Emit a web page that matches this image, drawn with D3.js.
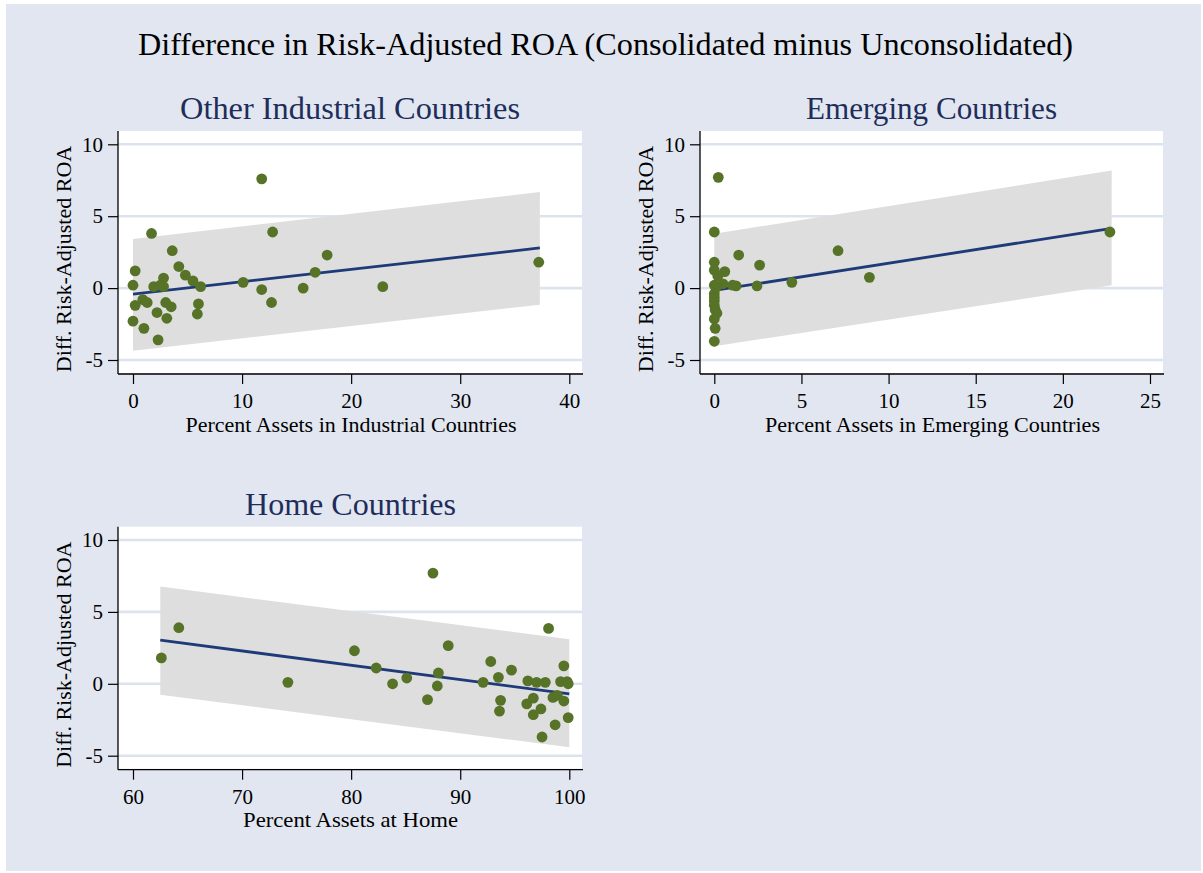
<!DOCTYPE html>
<html>
<head>
<meta charset="utf-8">
<script src="https://cdn.jsdelivr.net/npm/d3@7"></script>
<style>
  html, body { margin: 0; padding: 0; background: #ffffff; }
  svg { display: block; }
  text { font-family: "Liberation Serif", "Times New Roman", serif; }
</style>
</head>
<body>
<svg id="chart" width="1203" height="873"></svg>
<script>
// ---------- data ----------
const mainTitle = "Difference in Risk-Adjusted ROA (Consolidated minus Unconsolidated)";
const panelTitles = ["Other Industrial Countries", "Emerging Countries", "Home Countries"];
const xLabels = ["Percent Assets in Industrial Countries", "Percent Assets in Emerging Countries", "Percent Assets at Home"];
const yLabel = "Diff. Risk-Adjusted ROA";

const yTicks = [-5, 0, 5, 10];
const indTicks = [0, 10, 20, 30, 40];
const emgTicks = [0, 5, 10, 15, 20, 25];
const homeTicks = [60, 70, 80, 90, 100];

// Panel 1: Other industrial countries
const indX = [11.8, 1.7, 12.8, 3.6, 17.8, 4.2, 37.2, 0.2, 4.8, 2.8, 16.7, 5.5, 10.1, 0, 1.9, 2.5, 2.8, 6.2, 15.6, 22.9, 11.8, 0.2, 0.9, 1.3, 2.2, 3.0, 3.5, 6.0, 5.9, 12.7, 3.1, 0, 1.0, 2.3];
const indY = [7.6, 3.8, 3.9, 2.6, 2.3, 1.5, 1.8, 1.2, 0.9, 0.7, 1.1, 0.5, 0.4, 0.2, 0.1, 0.2, 0.1, 0.1, 0.0, 0.1, -0.1, -1.2, -0.8, -1.0, -1.7, -1.0, -1.3, -1.1, -1.8, -1.0, -2.1, -2.3, -2.8, -3.6];
const indFitX = [0, 37.3];
const indFitY = [-0.42, 2.79];
const indLo = [-4.35, -1.15];
const indHi = [3.41, 6.68];

// Panel 2: Emerging countries
const emgX = [0.23, 0, 22.7, 7.1, 1.4, 2.6, 0, 0, 0.6, 8.9, 0.2, 4.45, 2.45, 1.05, 1.25, 0, 0.5, 0.1, 0, 0, 0.15, 0, 0.05, 0, 0, 0, 0.05];
const emgY = [7.7, 3.9, 3.9, 2.6, 2.3, 1.6, 1.8, 1.25, 1.15, 0.75, 0.85, 0.4, 0.15, 0.2, 0.15, 0.2, 0.3, 0.05, -0.9, -1.2, -1.75, -2.15, -2.8, -3.7, -0.4, -0.65, -1.5];
const emgFitX = [0, 22.8];
const emgFitY = [-0.16, 4.15];
const emgLo = [-4.04, 0.19];
const emgHi = [3.78, 8.17];

// Panel 3: Home
const homeX = [62.6, 64.2, 74.2, 80.3, 82.3, 83.8, 85.1, 87.5, 87.0, 88.0, 87.9, 88.9, 92.1, 92.8, 93.5, 93.7, 93.6, 94.7, 96.2, 97.0, 97.8, 96.1, 96.7, 96.7, 97.4, 98.1, 97.5, 98.7, 98.5, 98.9, 99.5, 99.2, 99.8, 99.9, 99.5, 99.9];
const homeY = [1.8, 3.9, 0.1, 2.3, 1.1, 0.0, 0.4, 7.7, -1.1, 0.75, -0.15, 2.65, 0.1, 1.55, 0.45, -1.15, -1.9, 0.95, 0.2, 0.1, 0.1, -1.4, -1.0, -2.15, -1.75, 3.85, -3.7, -2.85, -0.95, -0.8, 1.25, 0.15, 0.15, 0.0, -1.2, -2.35];
const homeFitX = [62.5, 100];
const homeFitY = [3.03, -0.70];
const homeLo = [-0.77, -4.41];
const homeHi = [6.76, 3.10];

// ---------- style / layout ----------
const BG = "#e1e6f0";
const GRID = "#dde3ee";
const BAND = "#dedede";
const LINE = "#1f3a78";
const DOT = "#567327";
const SUB = "#1e2d5a";

const svg = d3.select("#chart");
svg.append("rect").attr("x", 0).attr("y", 0).attr("width", 1203).attr("height", 873).attr("fill", "#ffffff");
svg.append("rect").attr("x", 6).attr("y", 4).attr("width", 1195).attr("height", 867).attr("fill", BG);

svg.append("text")
  .attr("x", 605.5).attr("y", 55)
  .attr("text-anchor", "middle")
  .attr("font-size", 32)
  .attr("fill", "#000")
  .attr("textLength", 935).attr("lengthAdjust", "spacingAndGlyphs")
  .text(mainTitle);

const panels = [
  { title: panelTitles[0], xl: xLabels[0], px: 118, py: 131, pw: 464, ph: 242,
    xDom: [0, 40], xR: [133, 569.3], yR: [360, 144.3], ticks: indTicks,
    xs: indX, ys: indY, fx: indFitX, fy: indFitY, lo: indLo, hi: indHi, titleX: 350, titleW: 340, xlX: 351, xlW: 331 },
  { title: panelTitles[1], xl: xLabels[1], px: 700, py: 131, pw: 463, ph: 242,
    xDom: [0, 25], xR: [714.3, 1150], yR: [360, 144.3], ticks: emgTicks,
    xs: emgX, ys: emgY, fx: emgFitX, fy: emgFitY, lo: emgLo, hi: emgHi, titleX: 931.5, titleW: 251, xlX: 932.5, xlW: 335 },
  { title: panelTitles[2], xl: xLabels[2], px: 118, py: 526.7, pw: 464, ph: 242,
    xDom: [60, 100], xR: [133, 569.3], yR: [755.7, 540], ticks: homeTicks,
    xs: homeX, ys: homeY, fx: homeFitX, fy: homeFitY, lo: homeLo, hi: homeHi, titleX: 350.5, titleW: 211, xlX: 350.5, xlW: 215 }
];

panels.forEach(p => {
  const x = d3.scaleLinear().domain(p.xDom).range(p.xR);
  const y = d3.scaleLinear().domain([-5, 10]).range(p.yR);
  const g = svg.append("g");
  const axisY = p.py + p.ph + 1;

  // title
  g.append("text")
    .attr("x", p.titleX).attr("y", p.py - 12)
    .attr("text-anchor", "middle")
    .attr("font-size", 31)
    .attr("fill", SUB)
    .attr("textLength", p.titleW).attr("lengthAdjust", "spacingAndGlyphs")
    .text(p.title);

  // plot region
  g.append("rect").attr("x", p.px).attr("y", p.py).attr("width", p.pw).attr("height", p.ph).attr("fill", "#ffffff");

  // gridlines
  g.selectAll(".grid").data(yTicks).enter().append("line")
    .attr("x1", p.px).attr("x2", p.px + p.pw)
    .attr("y1", d => y(d)).attr("y2", d => y(d))
    .attr("stroke", GRID).attr("stroke-width", 2.6);

  // confidence band
  const bandData = p.fx.map((v, i) => ({ x: v, lo: p.lo[i], hi: p.hi[i] }));
  g.append("path")
    .datum(bandData)
    .attr("d", d3.area().x(d => x(d.x)).y0(d => y(d.lo)).y1(d => y(d.hi)))
    .attr("fill", BAND);

  // fit line
  const fitData = p.fx.map((v, i) => ({ x: v, y: p.fy[i] }));
  g.append("path")
    .datum(fitData)
    .attr("d", d3.line().x(d => x(d.x)).y(d => y(d.y)))
    .attr("fill", "none").attr("stroke", LINE).attr("stroke-width", 2.8);

  // points
  const pts = p.xs.map((v, i) => ({ x: v, y: p.ys[i] }));
  g.selectAll(".pt").data(pts).enter().append("circle")
    .attr("cx", d => x(d.x)).attr("cy", d => y(d.y))
    .attr("r", 5.4).attr("fill", DOT);

  // axes
  const fmt = d => String(d);
  const ay = g.append("g").attr("transform", `translate(${p.px},0)`)
    .call(d3.axisLeft(y).tickValues(yTicks).tickFormat(fmt).tickSize(10).tickSizeOuter(0).tickPadding(5));
  ay.select(".domain").remove();
  ay.selectAll("line").attr("stroke", "#000").attr("stroke-width", 1.2);
  ay.selectAll("text").attr("font-size", 21).attr("font-family", "Liberation Serif, serif").attr("fill", "#000");

  const ax = g.append("g").attr("transform", `translate(0,${axisY})`)
    .call(d3.axisBottom(x).tickValues(p.ticks).tickFormat(fmt).tickSize(10).tickSizeOuter(0).tickPadding(9));
  ax.select(".domain").remove();
  ax.selectAll("line").attr("stroke", "#000").attr("stroke-width", 1.2);
  ax.selectAll("text").attr("font-size", 21).attr("font-family", "Liberation Serif, serif").attr("fill", "#000");

  // axis lines
  g.append("line").attr("x1", p.px).attr("x2", p.px).attr("y1", p.py).attr("y2", axisY)
    .attr("stroke", "#000").attr("stroke-width", 1.3);
  g.append("line").attr("x1", p.px).attr("x2", p.px + p.pw + 1).attr("y1", axisY).attr("y2", axisY)
    .attr("stroke", "#000").attr("stroke-width", 1.3);

  // axis titles
  g.append("text")
    .attr("x", p.xlX).attr("y", axisY + 57.5)
    .attr("text-anchor", "middle").attr("font-size", 22).attr("fill", "#000")
    .attr("textLength", p.xlW).attr("lengthAdjust", "spacingAndGlyphs")
    .text(p.xl);
  const yc = p.py + 128;
  g.append("text")
    .attr("transform", `translate(${p.px - 47},${yc}) rotate(-90)`)
    .attr("text-anchor", "middle").attr("font-size", 22).attr("fill", "#000")
    .text(yLabel);
});
</script>
</body>
</html>
